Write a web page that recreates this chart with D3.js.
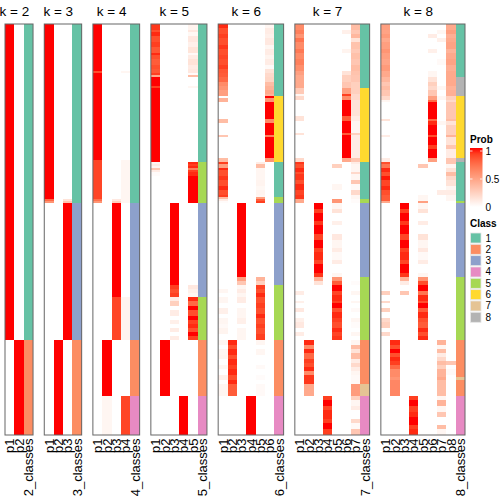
<!DOCTYPE html>
<html><head><meta charset="utf-8">
<script src="https://cdn.jsdelivr.net/npm/d3@7"></script>
<style>
body{margin:0;background:#fff}
svg{display:block}
text{font-family:"Liberation Sans",Arial,Helvetica,sans-serif;fill:#000}
</style>
</head><body>
<svg id="chart" width="504" height="504"></svg>
<script>
// ---- data ----
const kValues = [2, 3, 4, 5, 6, 7, 8];
const classIds = [1, 2, 3, 4, 5, 6, 7, 8];
const classColors = ["#66C2A5", "#FC8D62", "#8DA0CB", "#E78AC3", "#A6D854", "#FFD92F", "#E5C494", "#B3B3B3"];
const probTicks = [0, 0.5, 1];
const nSamples = 200;

// each run: [number of samples, class, p1 .. pk]
const runsK2 = [[154,1,1,0],[46,2,0,1]];

const runsK3 = [[85,1,1,0,0],[1,1,0.75,0,0.15],[1,1,0.55,0,0.3],[67,3,0,0,1],[46,2,0,1,0]];

const runsK4 = [[23,1,1,0,0,0],[1,1,0.85,0,0,0.05],[42,1,1,0,0,0],[19,1,0.88,0,0,0.05],[1,1,0.72,0,0.12,0.05],[1,1,0.55,0,0.25,0.05],
  [46,3,0,0,1,0],[21,3,0,0,0.88,0.06],[27,2,0,1,0,0],[19,4,0,0.05,0,0.88]];

const runsK5 = [[3,1,0.92,0,0,0,0.06],[1,1,0.85,0,0,0,0.12],[2,1,0.95,0,0,0,0.04],[3,1,0.85,0,0,0,0.12],[2,1,0.9,0,0,0,0.08],[3,1,0.82,0,0,0,0.14],
  [1,1,0.95,0,0,0,0.03],[2,1,0.85,0,0,0,0.1],[3,1,0.8,0,0,0,0.15],[2,1,0.85,0,0,0,0.1],[2,1,0.82,0,0,0,0.12],[1,1,0.9,0,0,0,0.02],
  [1,1,0.45,0,0,0,0.35],[4,1,1,0,0,0,0],[1,1,0.9,0,0,0,0.05],[36,1,1,0,0,0,0],
  [1,5,0.05,0,0,0,0.95],[1,5,0.1,0,0,0,0.9],[1,5,0.05,0,0,0,0.95],[1,5,0.3,0,0,0,0.65],[1,5,0.1,0,0,0,0.9],[2,5,0.02,0,0,0,0.95],[13,5,0,0,0,0,1],
  [40,3,0,0,1,0,0],[2,3,0,0,0.9,0,0.12],[2,3,0,0,0.85,0,0.08],[2,3,0,0,0.9,0,0.05],
  [2,5,0,0,0.1,0,0.95],[2,5,0,0,0.25,0,0.75],[2,5,0,0,0,0,1],[3,5,0,0,0.1,0,0.85],[2,5,0,0,0,0,1],[2,5,0,0,0.08,0,0.9],
  [2,5,0,0,0,0,0.95],[2,5,0,0,0.1,0,0.85],[2,5,0,0,0,0,1],[2,5,0,0,0.1,0,0.9],
  [27,2,0,1,0,0,0],[19,4,0,0,0,1,0]];

const runsK6 = [[2,1,0.95,0,0,0,0,0.05],[3,1,0.85,0,0,0,0,0.1],[2,1,0.9,0,0,0,0,0.08],[3,1,0.85,0,0,0,0,0.12],[2,1,0.92,0,0,0,0,0.05],
  [3,1,0.85,0,0,0,0,0.1],[2,1,0.88,0,0,0,0,0.06],[3,1,0.85,0,0,0,0,0.1],[2,1,0.9,0,0,0,0,0.03],[2,1,0.82,0,0,0,0,0.15],
  [2,1,0.8,0,0,0,0,0.2],[2,1,0.75,0,0,0,0,0.22],[2,1,0.6,0,0,0,0,0.35],[2,1,0.55,0,0,0,0,0.4],[2,1,0.5,0,0,0,0,0.45],[1,1,0.5,0,0,0,0,0.4],
  [1,6,0,0,0,0,0,1],[2,6,0.4,0,0,0,0,0.55],[8,6,0,0,0,0,0,1],[2,6,0.35,0,0,0,0,0.6],[6,6,0,0,0,0,0,1],[1,6,0.3,0,0,0,0,0.65],[10,6,0,0,0,0,0,1],[2,6,0.35,0,0,0,0,0.55],
  [1,1,0.9,0,0,0,0.1,0],[2,1,0.5,0,0,0,0.35,0],[1,1,0.95,0,0,0,0.05,0],[3,1,0.85,0,0,0,0.05,0],[2,1,0.92,0,0,0,0.05,0],[3,1,0.85,0,0,0,0.06,0],
  [2,1,0.95,0,0,0,0.04,0],[2,1,0.85,0,0,0,0.06,0],[1,1,0.9,0,0,0,0.05,0],
  [1,5,0.35,0,0,0,0.5,0],[1,5,0.1,0,0,0,0.8,0],[1,5,0.02,0,0,0,0.9,0],
  [36,3,0,0,1,0,0,0],[2,3,0,0,0.5,0,0.4,0],[2,3,0,0,0.3,0,0.25,0],
  [2,5,0,0,0.05,0,0.9,0],[2,5,0.05,0,0.1,0,0.85,0],[2,5,0,0,0.05,0,0.95,0],[3,5,0.05,0,0.1,0,0.85,0],[2,5,0,0,0,0,0.9,0],[3,5,0.08,0,0.05,0,0.85,0],
  [2,5,0,0,0.05,0,0.95,0],[3,5,0.05,0,0.08,0,0.85,0],[2,5,0.03,0,0,0,0.9,0],[3,5,0.06,0,0.05,0,0.85,0],[3,5,0,0,0.05,0,0.9,0],
  [2,2,0.05,0.95,0,0,0.05,0],[2,2,0,0.85,0,0,0,0],[3,2,0.05,0.95,0,0,0.05,0],[2,2,0.06,0.85,0,0,0,0],[3,2,0,0.95,0,0,0,0],
  [2,2,0.05,0.9,0,0,0.03,0],[3,2,0,0.95,0,0,0,0],[2,2,0.08,0.85,0,0,0.02,0],[2,2,0,0.95,0,0,0,0],[6,2,0.05,0.8,0,0,0.03,0],
  [19,4,0,0,0,1,0,0]];

const runsK7 = [[3,1,0.6,0,0,0,0,0,0.35],[2,1,0.65,0,0,0,0,0.08,0.3],[2,1,0.55,0,0,0,0,0,0.38],[2,1,0.7,0,0,0,0,0,0.15],[3,1,0.6,0,0,0,0,0,0.32],
  [2,1,0.68,0,0,0,0,0.06,0.28],[3,1,0.6,0,0,0,0,0,0.33],[3,1,0.65,0,0,0,0,0,0.3],[3,1,0.58,0,0,0,0,0,0.35],[2,1,0.5,0,0,0,0,0.15,0.32],
  [3,1,0.45,0,0,0,0,0.25,0.3],[3,1,0.45,0,0,0,0,0.3,0.25],
  [3,6,0.28,0,0,0,0,0.5,0.25],[1,6,0.05,0,0,0,0,0.9,0.2],[2,6,0.2,0,0,0,0,0.6,0.2],[8,6,0,0,0,0,0,1,0.15],[2,6,0.15,0,0,0,0,0.8,0.1],
  [6,6,0,0,0,0,0,1,0.05],[1,6,0.15,0,0,0,0,0.8,0.25],[11,6,0,0,0,0,0,1,0.1],[2,6,0.2,0,0,0,0,0.45,0.3],
  [1,1,0.92,0,0,0,0,0,0.1],[2,1,0.85,0,0,0,0.25,0,0.05],[2,1,0.95,0,0,0,0,0,0.05],[1,1,0.85,0,0,0,0,0,0.2],[3,1,0.92,0,0,0,0,0,0.05],
  [2,1,0.85,0,0,0,0,0,0.3],[3,1,0.95,0,0,0,0.05,0,0.03],[2,1,0.88,0,0,0,0,0,0.2],[2,1,0.92,0,0,0,0,0,0.05],
  [2,5,0.45,0,0,0,0.55,0,0.02],
  [3,3,0,0,1,0,0.05,0,0],[2,3,0,0,0.9,0,0.15,0,0],[4,3,0,0,1,0,0,0,0],[2,3,0,0,0.92,0,0.08,0,0],[4,3,0,0,1,0,0,0,0],[3,3,0,0,0.88,0,0.12,0,0],
  [4,3,0,0,1,0,0.05,0,0],[2,3,0,0,0.9,0,0.1,0,0],[4,3,0,0,0.95,0,0.03,0,0],[2,3,0,0,0.88,0,0.1,0,0],[4,3,0,0,1,0,0,0,0],[2,3,0,0,0.92,0,0.05,0,0],
  [2,5,0,0,0.4,0,0.55,0,0],[2,5,0,0,0.15,0,0.8,0,0.02],[3,5,0,0,0,0,1,0,0],[2,5,0.1,0,0,0,0.88,0,0.05],[3,5,0,0,0,0,0.95,0,0],[1,5,0.08,0,0,0,0.9,0,0.05],
  [2,5,0,0,0,0,1,0,0],[2,5,0.12,0,0,0,0.85,0,0.03],[3,5,0,0,0,0,0.95,0,0],[2,5,0.08,0,0,0,0.9,0,0.05],[3,5,0.12,0,0,0,0.85,0,0.02],
  [2,5,0,0,0,0,0.95,0,0],[2,5,0.1,0,0,0,0.88,0,0.05],[2,5,0,0,0,0,0.92,0,0],
  [2,2,0,0.95,0,0,0,0,0.05],[2,2,0,0.6,0,0,0,0,0.35],[2,2,0,0.95,0,0,0,0,0.15],[3,2,0,0.75,0,0,0,0,0.35],[2,2,0,0.9,0,0,0,0,0.1],
  [2,2,0,0.85,0,0,0,0,0.2],[2,2,0,0.95,0,0,0,0,0.1],[2,2,0,0.6,0,0,0,0,0.05],[4,2,0,0.92,0,0,0,0,0.03],
  [6,7,0,0.45,0,0,0,0,0.52],
  [2,4,0,0,0,0.9,0,0,0.25],[3,4,0,0,0,1,0,0,0.05],[2,4,0,0,0,0.88,0,0,0.1],[4,4,0,0,0,0.95,0,0,0],[2,4,0,0,0,0.9,0,0,0.2],
  [3,4,0,0,0,1,0,0,0.03],[3,4,0,0,0,0.9,0,0,0.3]];

const runsK8 = [[3,1,0.5,0,0,0,0,0,0,0.45],[2,1,0.48,0,0,0,0,0,0.05,0.5],[2,1,0.52,0,0,0,0,0.1,0,0.42],[2,1,0.45,0,0,0,0,0,0.08,0.45],
  [3,1,0.5,0,0,0,0,0,0,0.48],[2,1,0.55,0,0,0,0,0.08,0,0.4],[3,1,0.5,0,0,0,0,0,0,0.45],[3,1,0.47,0,0,0,0,0,0.03,0.48],
  [3,1,0.52,0,0,0,0,0,0,0.42],[3,1,0.45,0,0,0,0,0.05,0,0.45],
  [2,8,0.38,0,0,0,0,0.15,0,0.45],[2,8,0.3,0,0,0,0,0.25,0,0.45],[2,8,0.35,0,0,0,0,0.2,0.05,0.4],[3,8,0.3,0,0,0,0,0.3,0,0.42],
  [2,6,0.2,0,0,0,0,0.5,0.05,0.25],[1,6,0.05,0,0,0,0,0.75,0,0.2],[8,6,0,0,0,0,0,1,0,0.3],[1,6,0.15,0,0,0,0,0.75,0,0.35],
  [2,6,0,0,0,0,0,0.95,0.05,0.15],[5,6,0,0,0,0,0,1,0,0.25],[1,6,0.1,0,0,0,0,0.85,0,0.4],[4,6,0,0,0,0,0,1,0,0.15],
  [2,6,0,0,0,0,0,0.9,0,0.3],[4,6,0,0,0,0,0,1,0,0.1],
  [2,8,0.1,0,0,0,0,0.5,0,0.3],
  [1,1,0.85,0,0,0,0,0,0,0.3],[2,1,0.7,0,0,0,0.3,0,0,0.05],[2,1,0.95,0,0,0,0,0,0,0.15],[2,1,0.85,0,0,0,0,0,0,0.35],
  [2,1,0.98,0,0,0,0,0,0,0.2],[3,1,0.88,0,0,0,0,0,0,0.15],[2,1,0.95,0,0,0,0,0,0,0.05],[2,1,0.85,0,0,0,0,0,0.1,0.1],
  [3,1,0.8,0,0,0,0.05,0,0,0.05],
  [1,5,0.45,0,0,0,0.5,0,0,0],
  [3,3,0,0,1,0,0.05,0,0,0],[2,3,0,0,0.9,0,0.15,0,0,0],[4,3,0,0,1,0,0,0,0,0],[2,3,0,0,0.92,0,0.1,0,0,0],[4,3,0,0,1,0,0,0,0,0],
  [3,3,0,0,0.88,0,0.15,0,0,0],[4,3,0,0,1,0,0.05,0,0,0],[2,3,0,0,0.9,0,0.12,0,0,0],[4,3,0,0,0.95,0,0.03,0,0,0],
  [2,3,0,0,0.88,0,0.1,0,0,0],[4,3,0,0,1,0,0,0,0,0],[2,3,0,0,0.92,0,0.05,0,0,0],
  [2,5,0,0,0.4,0,0.55,0,0,0],[2,5,0,0,0.1,0,0.85,0,0,0],[3,5,0,0,0,0,1,0,0,0],[2,5,0.25,0,0.3,0,0.7,0,0,0],[3,5,0,0,0,0,0.95,0,0,0],
  [1,5,0.2,0,0,0,0.85,0,0,0],[2,5,0,0,0,0,1,0,0,0],[2,5,0.25,0,0,0,0.8,0,0,0],[3,5,0,0,0,0,0.95,0,0,0],[2,5,0.2,0,0,0,0.85,0,0,0],
  [3,5,0.25,0,0,0,0.8,0,0,0],[2,5,0,0,0,0,0.95,0,0,0],[2,5,0.2,0,0,0,0.85,0,0,0],[2,5,0,0,0,0,0.95,0,0,0],
  [2,2,0,0.95,0,0,0,0,0.4,0],[2,2,0,0.85,0,0,0,0,0.05,0],[2,2,0,1,0,0,0,0,0.35,0],[2,2,0,0.85,0,0,0,0,0.1,0],
  [2,2,0,0.95,0,0,0,0,0.2,0],[2,2,0,0.9,0,0,0,0,0.35,0.3],[2,2,0,0.75,0,0,0,0,0.25,0],[3,2,0,0.6,0,0,0,0,0.4,0.03],
  [1,2,0,0.6,0,0,0,0,0.4,0],[1,7,0,0.55,0,0,0,0,0.45,0],[8,2,0,0.62,0,0,0,0,0.35,0],
  [2,4,0,0,0,0.9,0,0,0.05,0],[3,4,0,0,0,1,0,0,0.4,0],[3,4,0,0,0,0.9,0,0,0.05,0],[2,4,0,0,0,0.95,0,0,0.3,0],
  [4,4,0,0,0,1,0,0,0,0],[2,4,0,0,0,0.9,0,0,0.35,0],[3,4,0,0,0,0.95,0,0,0.05,0]];

const panelRuns = [runsK2, runsK3, runsK4, runsK5, runsK6, runsK7, runsK8];

// ---- layout ----
const svg = d3.select("#chart");
const yTop = 24, yBottom = 435;
const gapUnits = 1.2;
const totalUnits = d3.sum(kValues, k => k + 1) + gapUnits * (kValues.length - 1);
const x = d3.scaleLinear().domain([0, totalUnits]).range([5, 465]);
const y = d3.scaleLinear().domain([0, nSamples]).range([yTop, yBottom]);
const probColor = d3.scaleLinear().domain([0, 1]).range(["#ffffff", "#ff0000"]).interpolate(d3.interpolateLab);
const classColor = d3.scaleOrdinal().domain(classIds).range(classColors);

let unitStart = 0;
kValues.forEach((k, pi) => {
  const runs = panelRuns[pi];
  const nCols = k + 1;
  const u0 = unitStart;
  const g = svg.append("g");
  let start = 0;
  const cells = [];
  runs.forEach(r => {
    const n = r[0], cls = r[1];
    for (let j = 0; j < k; j++) cells.push({s: start, n, col: j, fill: probColor(r[2 + j])});
    cells.push({s: start, n, col: k, fill: classColor(cls)});
    start += n;
  });
  g.selectAll("rect.cell").data(cells).join("rect")
    .attr("class", "cell")
    .attr("x", d => x(u0 + d.col))
    .attr("width", d => x(u0 + d.col + 1) - x(u0 + d.col))
    .attr("y", d => y(d.s))
    .attr("height", d => y(d.s + d.n) - y(d.s))
    .attr("fill", d => d.fill)
    .attr("shape-rendering", "crispEdges");
  g.append("rect")
    .attr("x", x(u0)).attr("y", y(0))
    .attr("width", x(u0 + nCols) - x(u0)).attr("height", y(nSamples) - y(0))
    .attr("fill", "none").attr("stroke", "#666").attr("stroke-width", 1);
  g.append("text")
    .attr("x", (x(u0) + x(u0 + k)) / 2).attr("y", 15.5)
    .attr("text-anchor", "middle").attr("font-size", 13.5)
    .text("k = " + k);
  const labels = d3.range(k).map(j => "p" + (j + 1)).concat([k + "_classes"]);
  labels.forEach((lab, j) => {
    const cx = (x(u0 + j) + x(u0 + j + 1)) / 2;
    g.append("text")
      .attr("transform", `translate(${cx},438.5) rotate(-90)`)
      .attr("text-anchor", "end").attr("dy", "0.36em")
      .attr("font-size", 13)
      .text(lab);
  });
  unitStart += nCols + gapUnits;
});

// ---- legends ----
const lg = svg.append("g");
lg.append("text").attr("x", 470).attr("y", 143).attr("font-size", 10).attr("font-weight", "bold").text("Prob");
const ly = d3.scaleLinear().domain([0, 1]).range([207, 151]);
const defs = svg.append("defs");
const grad = defs.append("linearGradient").attr("id", "pg").attr("x1", 0).attr("x2", 0).attr("y1", 1).attr("y2", 0);
d3.range(0, 1.0001, 0.1).forEach(t => grad.append("stop").attr("offset", t).attr("stop-color", probColor(t)));
lg.append("rect").attr("x", 470).attr("y", 148).attr("width", 12.5).attr("height", 59).attr("fill", "url(#pg)");
probTicks.forEach(t => {
  lg.append("line").attr("x1", 470).attr("x2", 472.5).attr("y1", ly(t)).attr("y2", ly(t)).attr("stroke", "#fff").attr("stroke-width", 0.8);
  lg.append("line").attr("x1", 480).attr("x2", 482.5).attr("y1", ly(t)).attr("y2", ly(t)).attr("stroke", "#fff").attr("stroke-width", 0.8);
  lg.append("text").attr("x", 485.5).attr("y", ly(t)).attr("dy", "0.35em").attr("font-size", 10).text(t);
});
lg.append("text").attr("x", 470).attr("y", 227).attr("font-size", 10).attr("font-weight", "bold").text("Class");
const sy = d3.scaleLinear().domain([1, 8]).range([238, 317.3]);
classIds.forEach(c => {
  lg.append("rect").attr("x", 470.5).attr("y", sy(c) - 5).attr("width", 10.5).attr("height", 10)
    .attr("fill", classColor(c)).attr("stroke", "#e6e6e6").attr("stroke-width", 0.8);
  lg.append("text").attr("x", 485.5).attr("y", sy(c)).attr("dy", "0.35em").attr("font-size", 10).text(c);
});
</script>
</body></html>
